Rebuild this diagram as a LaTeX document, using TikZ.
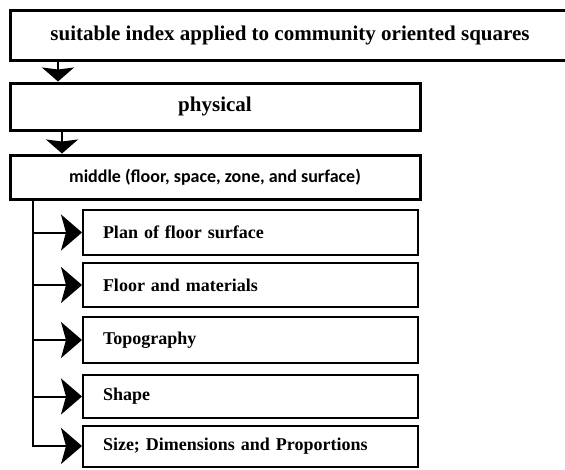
\documentclass[tikz,border=0pt]{standalone}
\usepackage{fontspec}
\setmainfont{Liberation Serif}
\newfontfamily\calibrifont{Carlito}
\usetikzlibrary{arrows.meta}
\begin{document}
\begin{tikzpicture}[x=1pt,y=-1pt,
  bigbox/.style={draw, line width=3pt, inner sep=0pt, font=\fontsize{21}{24}\selectfont\bfseries},
  subbox/.style={draw, line width=2pt, minimum width=335pt, text width=295pt, inner xsep=20pt, inner ysep=0pt, align=left, font=\fontsize{18}{21}\selectfont\bfseries},
  conn/.style={line width=2pt},
  harrow/.style={conn, -{Stealth[length=21pt,width=36pt,inset=5pt]}},
  varrow/.style={conn, -{Stealth[length=14pt,width=32pt,inset=2pt]}}]
\useasboundingbox (0,0) rectangle (565,469);
\node[bigbox, minimum width=560pt, minimum height=50pt] (top) at (290,35) {suitable index applied to community oriented squares};
\node[bigbox, minimum width=410pt, minimum height=47pt] (phys) at (215,106.5) {physical};
\node[bigbox, minimum width=410pt, minimum height=44pt, font=\fontsize{18}{21}\selectfont\calibrifont\bfseries] (mid) at (215,177) {middle (floor, space, zone, and surface)};
\node[subbox, minimum height=45pt] (plan) at (250.5,232.5) {Plan of floor surface};
\node[subbox, minimum height=44pt] (floor) at (250.5,285) {Floor and materials};
\node[subbox, minimum height=46pt] (topo) at (250.5,340) {Topography};
\node[subbox, minimum height=43pt] (shape) at (250.5,396.5) {Shape};
\node[subbox, minimum height=41pt] (size) at (250.5,446) {Size; Dimensions and Proportions};
\coordinate (v1) at (58,0);
\coordinate (v2) at (62,0);
\coordinate (tr) at (33,0);
\draw[varrow] (top.south -| v1) -- (phys.north -| v1);
\draw[varrow] (phys.south -| v2) -- (mid.north -| v2);
\draw[harrow] (mid.south -| tr) |- (size.west);
\draw[harrow] (plan.west -| tr) -- (plan.west);
\draw[harrow] (floor.west -| tr) -- (floor.west);
\draw[harrow] (topo.west -| tr) -- (topo.west);
\draw[harrow] (shape.west -| tr) -- (shape.west);
\end{tikzpicture}
\end{document}
